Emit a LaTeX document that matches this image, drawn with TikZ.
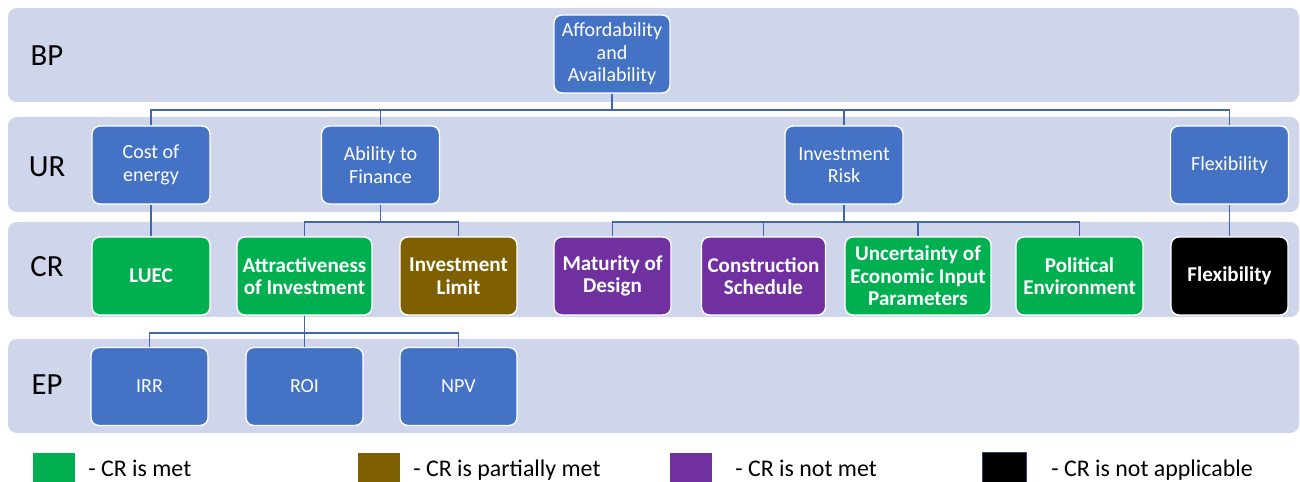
\documentclass[tikz,border=0pt]{standalone}
\usepackage{fontspec}
\setmainfont{Carlito}
\usepackage{xcolor}
\definecolor{band}{HTML}{CFD5EA}
\definecolor{boxblue}{HTML}{4472C4}
\definecolor{crmet}{HTML}{00B050}
\definecolor{crpart}{HTML}{7F6000}
\definecolor{crnot}{HTML}{7030A0}
\definecolor{linkblue}{HTML}{4266AD}
\usepackage{tikz}

\tikzset{
  layer/.style={fill=band, rounded corners=5pt},
  box/.style={draw=white, line width=0.8pt, rounded corners=4.5pt, fill=boxblue,
    text=white, align=center, inner sep=1pt, minimum height=1.56cm,
    minimum width=2.36cm, font=\fontsize{11.4}{12.9}\selectfont},
  crbox/.style={box, font=\fontsize{12}{12.8}\selectfont\bfseries},
  link/.style={draw=linkblue, line width=1.1pt},
  rowlabel/.style={anchor=base, font=\fontsize{17.5}{20}\selectfont},
  legtext/.style={anchor=base west, inner sep=0pt, font=\fontsize{13.6}{16}\selectfont},
}

\begin{document}
\begin{tikzpicture}[x=0.02cm, y=-0.02cm]
  \useasboundingbox (0,0) rectangle (1300,482);

  % layers
  \fill[layer] (8,8) rectangle (1299,102);
  \fill[layer] (8,117) rectangle (1299,212);
  \fill[layer] (8,222) rectangle (1299,317);
  \fill[layer] (8,339) rectangle (1299,433);

  \node[rowlabel](lbp) at (47,66) {BP};
  \node[rowlabel](lur) at (47,177) {UR};
  \node[rowlabel](lcr) at (47,277) {CR};
  \node[rowlabel](lep) at (47,395) {EP};

  % BP
  \node[box, minimum width=2.32cm](bp) at (612,54) {Affordability\\and\\Availability};

  % UR
  \node[box](ur1) at (151,165) {Cost of\\energy};
  \node[box](ur2) at (380.5,165) {Ability to\\Finance};
  \node[box](ur3) at (844,165) {Investment\\Risk};
  \node[box](ur4) at (1229.5,165) {Flexibility};

  % CR
  \node[crbox, fill=crmet](cr1) at (151,276) {LUEC};
  \node[crbox, fill=crmet, minimum width=2.70cm](cr2) at (304.5,276) {Attractiveness\\of Investment};
  \node[crbox, fill=crpart, minimum width=2.34cm](cr3) at (458.5,276) {Investment\\Limit};
  \node[crbox, fill=crnot, minimum width=2.34cm](cr4) at (612.5,276) {Maturity of\\Design};
  \node[crbox, fill=crnot, minimum width=2.48cm](cr5) at (763.5,276) {Construction\\Schedule};
  \node[crbox, fill=crmet, minimum width=2.92cm](cr6) at (918,276) {Uncertainty of\\Economic Input\\Parameters};
  \node[crbox, fill=crmet, minimum width=2.54cm](cr7) at (1079.5,276) {Political\\Environment};
  \node[crbox, fill=black, minimum width=2.34cm](cr8) at (1229.5,276) {Flexibility};

  % EP
  \node[box, minimum width=2.34cm](ep1) at (149.5,386.5) {IRR};
  \node[box, minimum width=2.34cm](ep2) at (304.5,386.5) {ROI};
  \node[box, minimum width=2.34cm](ep3) at (458.5,386.5) {NPV};

  % links
  \foreach \n in {ur1,ur2,ur3,ur4}
    \draw[link] (bp.south) -- ++(0,16) -| (\n.north);
  \draw[link] (ur1.south) -- (cr1.north);
  \foreach \n in {cr2,cr3}
    \draw[link] (ur2.south) -- ++(0,17) -| (\n.north);
  \foreach \n in {cr4,cr5,cr6,cr7}
    \draw[link] (ur3.south) -- ++(0,17) -| (\n.north);
  \draw[link] (ur4.south) -- (cr8.north);
  \foreach \n in {ep1,ep2,ep3}
    \draw[link] (cr2.south) -- ++(0,17) -| (\n.north);

  % legend
  \fill[crmet] (33,453) rectangle (75,490);
  \node[legtext](lg1) at (88,476) {- CR is met};
  \fill[crpart] (358,453) rectangle (400,490);
  \node[legtext](lg2) at (413,476) {- CR is partially met};
  \fill[crnot] (670,453) rectangle (712,490);
  \node[legtext](lg3) at (735,476) {- CR is not met};
  \filldraw[fill=black, draw=linkblue!70!black, line width=0.5pt] (982,452) rectangle (1026,490);
  \node[legtext](lg4) at (1051,476) {- CR is not applicable};
\end{tikzpicture}
\end{document}
